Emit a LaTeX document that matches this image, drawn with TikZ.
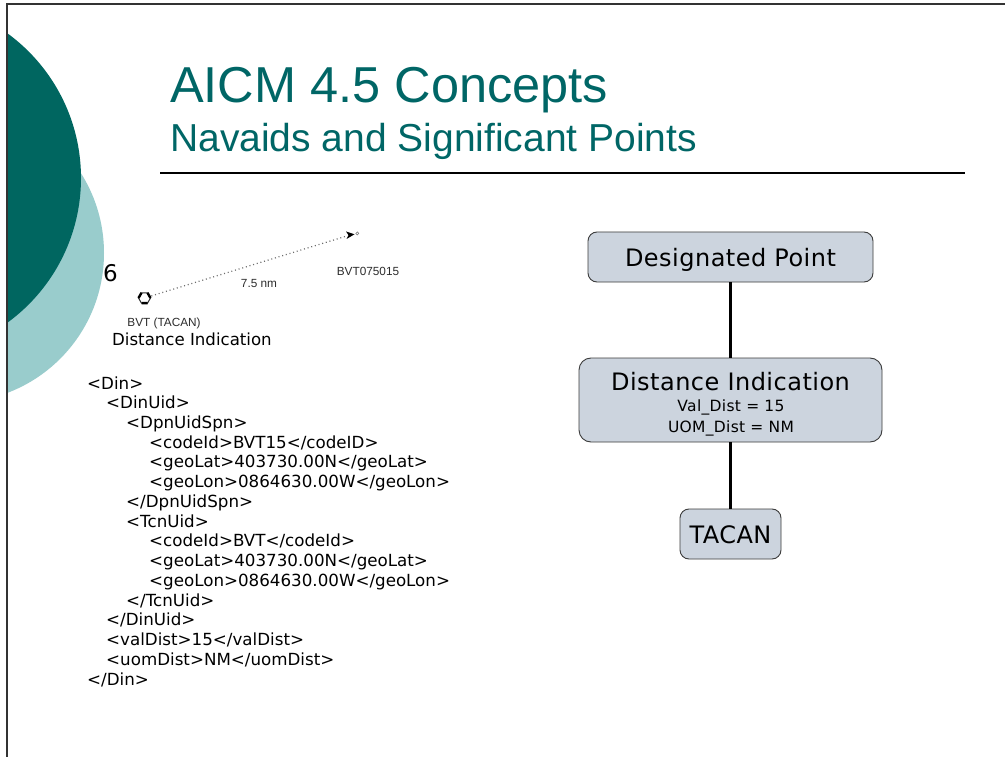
\documentclass[tikz,border=0pt]{standalone}
\usepackage{fontspec}
\setmainfont{DejaVu Sans}
\newfontfamily\headfont{Liberation Sans}
\newfontfamily\boxfont[LetterSpace=2]{DejaVu Sans}
\definecolor{tealdark}{RGB}{0,102,96}
\definecolor{teallight}{RGB}{153,204,204}
\definecolor{titleteal}{RGB}{0,102,102}
\definecolor{boxfill}{RGB}{204,212,222}
\definecolor{boxline}{RGB}{60,60,60}
\definecolor{mapgray}{RGB}{45,45,45}
\begin{document}
\begin{tikzpicture}[x=1pt,y=-1pt,
  xmlline/.style={anchor=base west, inner sep=0, font=\fontsize{16.7}{19}\selectfont},
  umlbox/.style={draw=boxline, line width=0.9, fill=boxfill, rounded corners=9pt, inner sep=0},
  boxtitle/.style={anchor=base, inner sep=0, font=\boxfont\fontsize{24}{28}\selectfont},
  boxattr/.style={anchor=base, inner sep=0, font=\boxfont\fontsize{15.5}{18}\selectfont},
  assoc/.style={line width=2.8, black},
  maplabel/.style={inner sep=0, text=mapgray, font=\headfont\fontsize{11.8}{13}\selectfont},
  dotline/.style={gray!85!black, line width=1.2, dash pattern=on 1pt off 2.8pt}]

\useasboundingbox (0,0) rectangle (1005,757);
\fill[white] (0,0) rectangle (1005,757);

% decorative circles on the left margin
\begin{scope}
  \clip (7,4) rectangle (1005,757);
  \fill[teallight] (-45.5,253) circle (149.5);
  \fill[tealdark] (-98,178) circle (179);
\end{scope}

% slide frame
\draw[gray!40!black, line width=1.2] (1005,4) -- (7,4) -- (7,757);

% title block
\node[anchor=base west, inner sep=0, text=titleteal,
      font=\headfont\fontsize{50.5}{60}\selectfont] (title) at (170,103) {AICM 4.5 Concepts};
\node[anchor=base west, inner sep=0, text=titleteal,
      font=\headfont\fontsize{39}{44}\selectfont] (subtitle) at (170,152) {Navaids and Significant Points};
\draw[black, line width=1.5] (160,173) -- (965,173);

% slide number
\node[anchor=base west, inner sep=0, font=\fontsize{23}{26}\selectfont] (pagenum) at (103,281) {6};

% map sketch: TACAN and designated point with distance
\node[circle, minimum size=14, inner sep=0] (tacsym) at (144.5,298) {};
\node[minimum size=9, inner sep=0] (dpsym) at (350,235) {};
\draw[dotline] (tacsym) -- (dpsym);
\begin{scope}[shift={(tacsym.center)}]
  \draw[mapgray, line width=1] (0:6) -- (60:6) -- (120:6) -- (180:6) -- (240:6) -- (300:6) -- cycle;
  \draw[black, line width=2.4] (60:6) -- (120:6) (180:6) -- (240:6) (300:6) -- (360:6);
\end{scope}
\fill[black] (346,231.5) -- (354.5,234.3) -- (346.5,239) -- (348.5,235.2) -- cycle;
\draw[gray, line width=0.6] (357.3,233.4) circle (1.5);
\node[maplabel] (distlabel) at (259,283) {7.5 nm};
\node[maplabel] (dplabel) at (368,271) {BVT075015};
\node[maplabel] (taclabel) at (164,323) {BVT (TACAN)};
\node[anchor=base west, inner sep=0, font=\fontsize{16.6}{19}\selectfont] (caption) at (112,345) {Distance Indication};

% XML encoding
\node[xmlline] (x1)  at (87,389)     {<Din>};
\node[xmlline] (x2)  at (106,408.7)  {<DinUid>};
\node[xmlline] (x3)  at (126,428.5)  {<DpnUidSpn>};
\node[xmlline] (x4)  at (149,448.2)  {<codeId>BVT15</codeID>};
\node[xmlline] (x5)  at (149,467.9)  {<geoLat>403730.00N</geoLat>};
\node[xmlline] (x6)  at (149,487.7)  {<geoLon>0864630.00W</geoLon>};
\node[xmlline] (x7)  at (126,507.4)  {</DpnUidSpn>};
\node[xmlline] (x8)  at (126,527.1)  {<TcnUid>};
\node[xmlline] (x9)  at (149,546.8)  {<codeId>BVT</codeId>};
\node[xmlline] (x10) at (149,566.6)  {<geoLat>403730.00N</geoLat>};
\node[xmlline] (x11) at (149,586.3)  {<geoLon>0864630.00W</geoLon>};
\node[xmlline] (x12) at (126,606)    {</TcnUid>};
\node[xmlline] (x13) at (106,625.8)  {</DinUid>};
\node[xmlline] (x14) at (106,645.5)  {<valDist>15</valDist>};
\node[xmlline] (x15) at (106,665.2)  {<uomDist>NM</uomDist>};
\node[xmlline] (x16) at (87,685)     {</Din>};

% class diagram
\node[umlbox, minimum width=285, minimum height=50] (dp) at (730.5,257) {};
\node[umlbox, minimum width=303, minimum height=84, rounded corners=12pt] (di) at (730.5,400) {};
\node[umlbox, minimum width=101, minimum height=50] (tc) at (730.5,534) {};
\draw[assoc] (dp.south) -- (di.north);
\draw[assoc] (di.south) -- (tc.north);
\node[boxtitle] (dptext) at (730.5,266) {Designated Point};
\node[boxtitle] (ditext) at (730.5,390) {Distance Indication};
\node[boxattr] (valtext) at (731,411.7) {Val\_Dist = 15};
\node[boxattr] (uomtext) at (731,432) {UOM\_Dist = NM};
\node[boxtitle] (tctext) at (730.5,543) {TACAN};
\end{tikzpicture}
\end{document}
